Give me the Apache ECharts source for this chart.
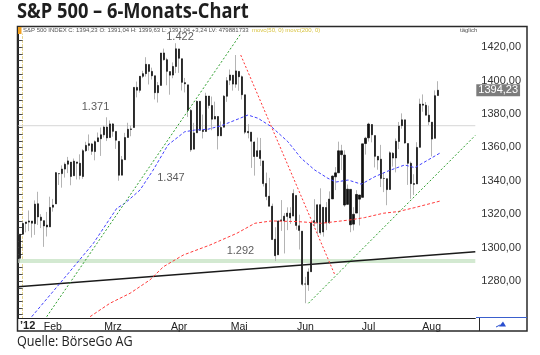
<!DOCTYPE html>
<html><head><meta charset="utf-8">
<script src="https://cdn.jsdelivr.net/npm/echarts@6/dist/echarts.min.js"></script>
<style>html,body{margin:0;padding:0;background:#fff}#c{width:540px;height:355px}</style>
</head><body><div id="c"></div>
<script>
// ---- data (S&P 500 daily, 18.01.2012 - 06.08.2012) ----
const dates = [
'2012-01-18','2012-01-19','2012-01-20','2012-01-23','2012-01-24','2012-01-25','2012-01-26','2012-01-27','2012-01-30','2012-01-31',
'2012-02-01','2012-02-02','2012-02-03','2012-02-06','2012-02-07','2012-02-08','2012-02-09','2012-02-10','2012-02-13','2012-02-14','2012-02-15','2012-02-16','2012-02-17','2012-02-21','2012-02-22','2012-02-23','2012-02-24','2012-02-27','2012-02-28','2012-02-29',
'2012-03-01','2012-03-02','2012-03-05','2012-03-06','2012-03-07','2012-03-08','2012-03-09','2012-03-12','2012-03-13','2012-03-14','2012-03-15','2012-03-16','2012-03-19','2012-03-20','2012-03-21','2012-03-22','2012-03-23','2012-03-26','2012-03-27','2012-03-28','2012-03-29','2012-03-30',
'2012-04-02','2012-04-03','2012-04-04','2012-04-05','2012-04-09','2012-04-10','2012-04-11','2012-04-12','2012-04-13','2012-04-16','2012-04-17','2012-04-18','2012-04-19','2012-04-20','2012-04-23','2012-04-24','2012-04-25','2012-04-26','2012-04-27','2012-04-30',
'2012-05-01','2012-05-02','2012-05-03','2012-05-04','2012-05-07','2012-05-08','2012-05-09','2012-05-10','2012-05-11','2012-05-14','2012-05-15','2012-05-16','2012-05-17','2012-05-18','2012-05-21','2012-05-22','2012-05-23','2012-05-24','2012-05-25','2012-05-29','2012-05-30','2012-05-31',
'2012-06-01','2012-06-04','2012-06-05','2012-06-06','2012-06-07','2012-06-08','2012-06-11','2012-06-12','2012-06-13','2012-06-14','2012-06-15','2012-06-18','2012-06-19','2012-06-20','2012-06-21','2012-06-22','2012-06-25','2012-06-26','2012-06-27','2012-06-28','2012-06-29',
'2012-07-02','2012-07-03','2012-07-05','2012-07-06','2012-07-09','2012-07-10','2012-07-11','2012-07-12','2012-07-13','2012-07-16','2012-07-17','2012-07-18','2012-07-19','2012-07-20','2012-07-23','2012-07-24','2012-07-25','2012-07-26','2012-07-27','2012-07-30','2012-07-31',
'2012-08-01','2012-08-02','2012-08-03','2012-08-06'];
const opens = [
1293.65,1308.07,1314.49,1315.29,1315.96,1314.40,1326.28,1318.25,1316.16,1313.53,
1312.45,1324.24,1326.21,1344.32,1344.33,1347.04,1349.97,1351.21,1343.06,1351.30,1350.52,1342.61,1358.06,1361.22,1362.11,1357.53,1363.46,1365.20,1367.56,1372.20,
1365.90,1374.09,1369.59,1363.63,1343.39,1352.65,1365.97,1370.78,1371.92,1395.95,1394.17,1402.55,1404.17,1409.59,1405.52,1402.89,1392.78,1397.11,1416.55,1412.52,1405.39,1403.31,
1408.47,1418.98,1413.09,1398.79,1397.45,1382.18,1358.98,1368.77,1387.61,1370.27,1369.57,1390.78,1385.08,1376.96,1378.53,1366.97,1372.11,1390.64,1400.19,1403.26,
1397.86,1405.50,1402.32,1391.51,1368.79,1369.16,1363.20,1354.58,1358.11,1351.93,1338.36,1330.78,1324.82,1305.05,1295.73,1316.09,1316.02,1318.72,1320.64,1318.90,1331.25,1313.09,
1309.87,1278.29,1277.82,1285.61,1316.15,1314.99,1325.72,1309.40,1324.02,1314.88,1329.19,1342.42,1344.83,1357.98,1355.43,1325.92,1334.90,1314.09,1320.71,1331.52,1330.12,
1362.33,1365.75,1373.72,1367.09,1354.66,1352.96,1341.40,1341.29,1334.81,1356.50,1353.68,1363.58,1373.01,1376.51,1362.34,1350.52,1338.35,1338.17,1360.05,1385.94,1385.27,
1379.32,1375.13,1365.45,1391.04];
const highs = [
1308.11,1315.49,1315.38,1322.28,1315.96,1328.30,1333.47,1320.06,1316.16,1321.41,
1330.52,1329.19,1345.34,1344.36,1349.24,1351.00,1354.32,1351.21,1353.35,1351.30,1355.87,1359.02,1363.40,1367.76,1362.70,1364.24,1368.92,1371.94,1373.09,1378.04,
1376.17,1374.53,1369.59,1363.63,1354.85,1368.72,1374.76,1373.04,1396.13,1399.42,1402.63,1405.88,1414.00,1409.59,1407.75,1402.89,1399.18,1416.58,1419.15,1413.65,1405.39,1410.89,
1422.38,1419.00,1413.09,1401.60,1397.45,1383.01,1374.71,1388.13,1387.61,1379.66,1392.76,1390.78,1390.46,1387.40,1378.53,1375.57,1391.37,1402.09,1406.64,1403.26,
1415.32,1405.50,1403.07,1391.51,1373.91,1369.16,1363.73,1365.88,1365.66,1351.93,1344.94,1341.78,1326.36,1312.24,1316.39,1328.49,1320.71,1324.14,1324.20,1334.93,1331.25,1319.74,
1309.87,1282.55,1287.62,1315.13,1329.05,1325.81,1335.52,1324.31,1327.28,1333.68,1343.32,1348.22,1363.46,1361.57,1358.27,1337.82,1334.90,1324.24,1334.40,1331.52,1362.17,
1366.35,1374.81,1373.85,1367.09,1354.87,1361.54,1345.00,1341.29,1357.70,1357.26,1365.36,1375.26,1380.39,1376.51,1362.34,1351.53,1343.98,1363.13,1389.19,1391.74,1387.16,
1385.03,1375.13,1394.16,1399.63];
const lows = [
1290.99,1308.07,1309.17,1309.89,1306.06,1307.65,1313.60,1311.72,1300.49,1306.69,
1312.45,1321.57,1326.21,1337.52,1335.92,1341.95,1344.63,1337.35,1343.06,1340.83,1340.80,1341.22,1357.24,1358.11,1355.53,1352.28,1363.46,1354.92,1365.97,1363.81,
1365.90,1366.42,1359.13,1340.03,1343.39,1352.65,1365.97,1366.69,1371.92,1389.97,1392.78,1401.47,1402.43,1397.68,1400.64,1388.73,1386.87,1397.11,1411.95,1397.20,1391.56,1401.42,
1404.46,1404.62,1394.09,1392.92,1378.24,1357.38,1358.98,1368.77,1369.85,1365.38,1369.57,1383.29,1370.30,1376.96,1358.79,1366.82,1372.11,1387.28,1397.31,1394.00,
1395.73,1393.92,1388.71,1367.96,1365.44,1347.75,1343.13,1354.58,1348.89,1336.61,1328.41,1324.79,1304.86,1291.98,1295.73,1310.04,1296.53,1310.50,1314.23,1318.90,1310.76,1298.90,
1277.25,1266.74,1274.16,1285.61,1312.68,1307.77,1307.73,1306.62,1310.51,1314.14,1329.19,1334.46,1344.83,1346.45,1324.41,1325.92,1309.27,1310.30,1320.71,1313.29,1330.12,
1355.70,1363.53,1363.02,1348.03,1346.65,1336.27,1333.25,1325.41,1334.81,1348.51,1345.07,1358.96,1371.21,1362.19,1337.56,1329.24,1331.50,1338.17,1360.05,1381.37,1379.17,
1373.35,1354.65,1365.45,1391.04];
const closes = [
1308.04,1314.50,1315.38,1316.00,1314.65,1326.06,1318.43,1316.33,1313.01,1312.41,
1324.09,1325.54,1344.90,1344.33,1347.05,1349.96,1351.95,1342.64,1351.77,1350.50,1343.23,1358.04,1361.23,1362.21,1357.66,1363.46,1365.74,1367.59,1372.18,1365.68,
1374.09,1369.63,1364.33,1343.36,1352.63,1365.91,1370.87,1371.09,1395.95,1394.28,1402.60,1404.17,1409.75,1405.52,1402.89,1392.78,1397.11,1416.51,1412.52,1405.54,1403.28,1408.47,
1419.04,1413.38,1398.96,1398.08,1382.20,1358.59,1368.71,1387.57,1370.26,1369.57,1390.78,1385.14,1376.92,1378.53,1366.94,1371.97,1390.69,1399.98,1403.36,1397.91,
1405.82,1402.31,1391.57,1369.10,1369.58,1363.72,1354.58,1357.99,1353.39,1338.35,1330.66,1324.80,1304.86,1295.22,1315.99,1316.63,1318.86,1320.68,1317.82,1332.42,1313.32,1310.33,
1278.04,1278.18,1285.50,1315.13,1314.99,1325.66,1308.93,1324.18,1314.88,1329.10,1342.84,1344.78,1357.98,1355.69,1325.51,1335.02,1313.72,1319.99,1331.85,1329.04,1362.16,
1365.51,1374.02,1367.58,1354.68,1352.46,1341.47,1341.45,1334.76,1356.78,1353.64,1363.67,1372.78,1376.51,1362.66,1350.52,1338.31,1337.89,1360.02,1385.97,1385.30,1379.32,
1375.32,1365.00,1390.99,1394.23];
const volumeText = '479881733';
// moving averages: [trading-day index, value]
const ma50 = [[3.0,1258.7],[12.4,1278.7],[23.5,1302.6],[31.3,1323.6],[34.0,1326.6],[39.0,1334.5],[43.4,1346.5],[48.3,1361.5],[53.9,1369.4],[57.2,1370.4],[61.6,1370.9],[66.0,1373.0],[72.3,1377.5],[74.9,1379.4],[78.2,1377.5],[82.7,1372.4],[88.2,1363.4],[92.6,1353.5],[97.1,1346.5],[101.5,1341.5],[104.2,1339.3],[108.2,1340.5],[112.6,1338.0],[117.1,1342.5],[121.5,1345.9],[127.0,1349.5],[130.4,1347.9],[134.8,1352.5],[139.2,1357.1]];
const ma200 = [[22.4,1258.7],[29.0,1266.7],[35.7,1272.7],[42.3,1280.7],[46.8,1288.6],[53.4,1295.6],[62.3,1301.6],[71.2,1308.6],[77.2,1314.6],[82.7,1316.0],[91.6,1315.6],[99.3,1314.6],[108.8,1316.6],[113.7,1318.0],[119.9,1320.6],[124.8,1321.6],[130.4,1324.0],[139.2,1328.1]];
// trend lines: [trading-day index, value]
const trendUp1 = [[7.98,1258.7],[72.27,1427.4]];
const trendUp2 = [[95.0,1266.7],[150.5,1367.2]];
const trendDown = [[72.5,1415.3],[103.8,1283.7]];
const trendBase = [[-1.5,1276.6],[150.5,1297.6]];
const levelGray = 1373;
const levelGreen = 1292;
const levelLabels = ['1.422','1.371','1.347','1.292'];
const monthTicks = ['2012-02-01','2012-03-01','2012-04-02','2012-05-01','2012-06-01','2012-07-02','2012-08-01'];
const monthNames = ['Feb','Mrz','Apr','Mai','Jun','Jul','Aug'];
const priceTicks = [1280,1300,1320,1340,1360,1380,1400,1420];

// ---- layout ----
const LEAD = 1, TRAIL = 11;
const cats = [];
for (let i = 0; i < LEAD; i++) cats.push('pre' + i);
dates.forEach(d => cats.push(d));
for (let i = 0; i < TRAIL; i++) cats.push('post' + i);
const N = dates.length;
const xMin = -LEAD - 0.5, xMax = N - 1 + TRAIL + 0.5;
const yMin = 1257.6, yMax = 1427.9;
const minorTicks = [];
for (let v = 1260; v <= 1428; v += 4) minorTicks.push(v);
const de = v => v.toFixed(2).replace('.', ',');
const wickData = dates.map((d, i) => [lows[i], lows[i], lows[i], highs[i]]);
const bodyData = dates.map((d, i) => [opens[i], closes[i], Math.min(opens[i], closes[i]), Math.max(opens[i], closes[i])]);
const last = N - 1;
const headerA = 'S&P 500 INDEX C: ' + de(closes[last]) + ' O: ' + de(opens[last]) + ' H: ' + de(highs[last]) +
  ' L: ' + de(lows[last]) + ' +' + de(closes[last] - closes[last - 1]) + ' LV: ' + volumeText;
const headerB = 'movc(50, 0) movc(200, 0)';
const tickIdx = new Set(monthTicks.map(d => cats.indexOf(d)));
const font = 'Liberation Sans, Arial, sans-serif';
const titleFont = 'Open Sans, Noto Sans, sans-serif';

const lineSeries = (data, color, dash, width, z) => ({
  type: 'line', xAxisIndex: 1, yAxisIndex: 0, data: data, symbol: 'none', silent: true, z: z,
  lineStyle: { color: color, width: width, type: dash }, animation: false
});

const chart = echarts.init(document.getElementById('c'), null, { renderer: 'canvas' });
chart.setOption({
  animation: false,
  grid: { left: 18.2, top: 34, width: 457.1, height: 284.5, containLabel: false },
  xAxis: [{
    type: 'category', data: cats, boundaryGap: true,
    axisLine: { show: true, lineStyle: { color: '#222', width: 1 } },
    axisTick: { show: false }, splitLine: { show: false },
    axisLabel: {
      interval: (i) => tickIdx.has(i), margin: 3, fontSize: 10.5, color: '#222', fontFamily: font,
      formatter: (v) => { const k = monthTicks.indexOf(v); return k >= 0 ? monthNames[k] : ''; }
    }
  }, {
    type: 'value', min: xMin, max: xMax, show: false
  }],
  yAxis: [{
    type: 'value', position: 'right', min: yMin, max: yMax, scale: true,
    axisLine: { show: true, lineStyle: { color: '#e6d48a', type: [2, 2], width: 1 } },
    axisTick: { show: true, inside: true, length: 2, customValues: minorTicks, lineStyle: { color: '#555' } },
    splitLine: { show: false },
    axisLabel: { customValues: priceTicks, formatter: v => de(v), fontSize: 11, color: '#333', margin: 6, fontFamily: font }
  }, {
    type: 'value', position: 'left', min: yMin, max: yMax, scale: true,
    axisLine: { show: true, lineStyle: { color: '#222', width: 1 } },
    axisTick: { show: true, inside: true, length: 3, customValues: minorTicks, lineStyle: { color: '#444' } },
    splitLine: { show: false }, axisLabel: { show: false }
  }],
  series: [
    lineSeries([[xMin, levelGreen], [xMax, levelGreen]], '#d3e9d1', 'solid', 4, 1),
    lineSeries([[xMin, levelGray], [xMax, levelGray]], '#d6d6d6', 'solid', 1, 1),
    lineSeries(trendBase, '#1a1a1a', 'solid', 1.5, 1),
    {
      type: 'candlestick', xAxisIndex: 0, yAxisIndex: 0, data: wickData, barWidth: 1, z: 2, silent: true,
      itemStyle: { color: '#b4b4b4', color0: '#b4b4b4', borderColor: '#b4b4b4', borderColor0: '#b4b4b4', borderWidth: 1 }
    },
    {
      type: 'candlestick', xAxisIndex: 0, yAxisIndex: 0, data: bodyData, barWidth: 1.6, z: 3, silent: true,
      itemStyle: { color: '#111', color0: '#111', borderColor: '#111', borderColor0: '#111', borderWidth: 0.7 },
      markLine: {
        silent: true, symbol: 'none', animation: false,
        data: [{ yAxis: closes[last] }],
        lineStyle: { color: 'rgba(255,255,255,0)', width: 0.1 },
        label: { show: true, position: 'end', distance: 1, formatter: de(closes[last]), backgroundColor: '#7c7c7c', color: '#fff',
                 fontSize: 11, fontFamily: font, padding: [1, 2, 0, 2] }
      }
    },
    lineSeries(ma50, '#4040ff', [3, 2], 1, 4),
    lineSeries(ma200, '#ff3b3b', [3, 2], 1, 4),
    lineSeries(trendUp1, '#2e9e2e', [2, 2], 1, 4),
    lineSeries(trendUp2, '#2e9e2e', [2, 2], 1, 4),
    lineSeries(trendDown, '#ff3030', [2, 2], 1, 4),
    {
      type: 'scatter', xAxisIndex: 1, yAxisIndex: 0, silent: true, z: 5, symbolSize: 1,
      itemStyle: { color: 'rgba(0,0,0,0)' },
      data: [[52.3, 1425.9, 0], [24.2, 1384.4, 1], [49.3, 1341.5, 2], [72.4, 1298.0, 3]],
      label: { show: true, position: 'inside', formatter: p => levelLabels[p.value[2]], fontSize: 11, color: '#333', fontFamily: font }
    }
  ],
  graphic: [
    { type: 'text', x: 17, y: 12.5, scaleX: 0.87, z: 10, silent: true,
      style: { text: 'S&P 500 – 6-Monats-Chart', fontSize: 21, fontWeight: 'bold', fill: '#1e1e1e', fontFamily: titleFont, verticalAlign: 'middle' } },
    { type: 'rect', shape: { x: 17.5, y: 26.5, width: 509.5, height: 304.5 }, style: { fill: 'none', stroke: '#2a2a2a', lineWidth: 1.5 }, z: 10, silent: true },
    { type: 'rect', shape: { x: 18, y: 27, width: 3.5, height: 7 }, style: { fill: '#f0a020' }, z: 10, silent: true },
    { type: 'text', x: 23, y: 30.5, z: 10, silent: true,
      style: { text: '{a|' + headerA + '} {b|' + headerB + '}', verticalAlign: 'middle',
        rich: { a: { fontSize: 6, fill: '#555', fontFamily: font }, b: { fontSize: 6, fill: '#d8c340', fontFamily: font } } } },
    { type: 'text', x: 460, y: 30.5, z: 10, silent: true, style: { text: 'täglich', fontSize: 6, fill: '#555', fontFamily: font, verticalAlign: 'middle' } },
    { type: 'text', x: 20, y: 326, z: 10, silent: true, style: { text: '\u201912', fontSize: 11, fontWeight: 'bold', fill: '#222', fontFamily: font, verticalAlign: 'middle' } },
    { type: 'line', shape: { x1: 476, y1: 317.5, x2: 527, y2: 317.5 }, style: { stroke: '#3a5fcd', lineWidth: 1.2 }, z: 10, silent: true },
    { type: 'line', shape: { x1: 479.5, y1: 318, x2: 479.5, y2: 331 }, style: { stroke: '#2a2a2a', lineWidth: 1 }, z: 10, silent: true },
    { type: 'polygon', shape: { points: [[499, 326.5], [506, 326.5], [503, 321.5]] }, style: { fill: '#2a4fcf' }, z: 10, silent: true },
    { type: 'line', shape: { x1: 496, y1: 327, x2: 500, y2: 325 }, style: { stroke: '#2a4fcf', lineWidth: 1 }, z: 10, silent: true },
    { type: 'text', x: 17, y: 342.5, scaleX: 0.9, z: 10, silent: true,
      style: { text: 'Quelle: BörseGo AG', fontSize: 14, fill: '#222', fontFamily: titleFont, verticalAlign: 'middle' } }
  ]
});
</script></body></html>
